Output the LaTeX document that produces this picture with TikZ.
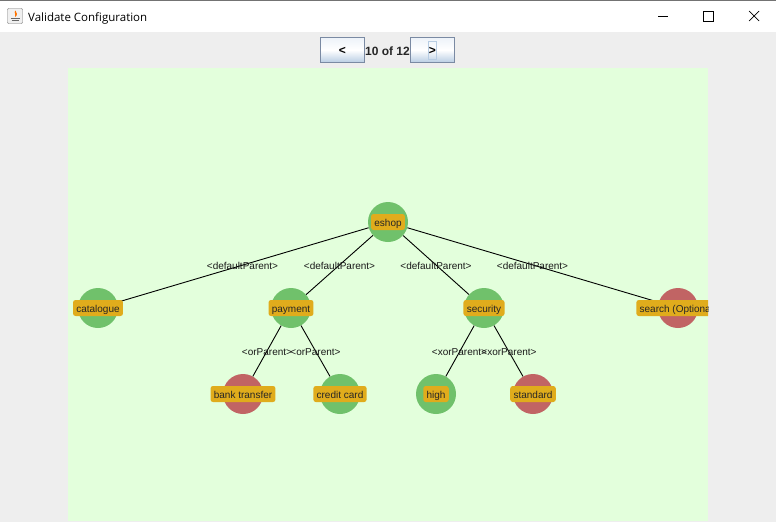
\documentclass[tikz,border=0pt]{standalone}
\usepackage{fontspec}
\setmainfont{Liberation Sans}
\newfontfamily\titlefont{Open Sans}
\definecolor{windowgrey}{HTML}{EEEEEE}
\definecolor{panelgreen}{HTML}{E3FFDC}
\definecolor{okgreen}{HTML}{70C16B}
\definecolor{badred}{HTML}{C16464}
\definecolor{tagorange}{HTML}{E0AC1C}
\definecolor{buttonedge}{HTML}{7A8AA3}
\definecolor{buttonlow}{HTML}{B8CDE3}
\definecolor{buttontop}{HTML}{EDF2F9}

\begin{document}
\begin{tikzpicture}[
    x=1pt, y=-1pt,
    feature/.style={circle, minimum size=40pt, inner sep=0pt, fill=okgreen},
    excluded/.style={feature, fill=badred},
    tag/.style={fill=tagorange, rounded corners=2.5pt, text height=9pt,
        text depth=1pt, inner xsep=3.3pt, inner ysep=3pt,
        font=\fontsize{10}{12}\selectfont, text=black!85},
    edge/.style={draw=black, line width=0.9pt},
    parent label/.style={font=\fontsize{10}{12}\selectfont, inner sep=0pt,
        text height=7.5pt, text depth=2pt, text=black!90},
    navbutton/.style={draw=buttonedge, line width=0.9pt, minimum width=44pt,
        minimum height=25pt, inner sep=0pt, text height=10pt, text depth=1pt,
        top color=buttontop, bottom color=buttonlow, middle color=white,
        font=\fontsize{12}{14}\selectfont\bfseries},
    winicon/.style={draw=black, line width=0.9pt}
]
\useasboundingbox (0,0) rectangle (776,522);

% window
\fill[windowgrey] (0,0) rectangle (776,522);
\fill[white] (0,1) rectangle (776,32);
\fill[black!55] (0,0) rectangle (776,1.2);
\fill[panelgreen] (68,68) rectangle (708,521);

% title bar
\node[draw=black!55, fill=black!6, rounded corners=1pt, minimum size=15pt,
    inner sep=0pt] (java-icon) at (15,16) {};
\fill[orange!90!red] (15.5,10.5) .. controls (13,13) and (17,14) .. (15,17)
    .. controls (18,15) and (17,13) .. (15.5,10.5);
\draw[black!60, line width=0.9pt] (10.5,18) -- (19.5,18) (11.5,20.5) -- (18.5,20.5);
\node[anchor=west, inner sep=0pt, font=\titlefont\fontsize{11.5}{14}\selectfont]
    (title) at (28,18) {Validate Configuration};
\coordinate (min-l) at (658,16);
\coordinate (min-r) at (668,16);
\draw[winicon] (min-l) -- (min-r);
\node[winicon, minimum size=10pt, inner sep=0pt] (max-box) at (708,16) {};
\coordinate (close-a) at (749,11);
\coordinate (close-b) at (759,21);
\coordinate (close-c) at (749,21);
\coordinate (close-d) at (759,11);
\draw[black, line width=0.7pt] (close-a) -- (close-b);
\draw[black, line width=0.7pt] (close-c) -- (close-d);

% navigation
\node[navbutton] (prev) at (342.3,50) {<};
\node[navbutton] (next) at (432.3,50) {>};
\node[draw=buttonlow, line width=0.8pt, minimum width=8pt, minimum height=18pt,
    inner sep=0pt] (next-focus) at (432.5,50) {};
\node[inner sep=0pt, text=black!85, font=\fontsize{12}{14}\selectfont\bfseries]
    (page) at (387.5,51) {10 of 12};

% feature circles
\node[feature] (eshop) at (388,222) {};
\node[feature] (catalogue) at (98,308) {};
\node[feature] (payment) at (291,308) {};
\node[feature] (security) at (484,308) {};
\node[excluded] (search) at (678,308) {};
\node[excluded] (bank) at (243,394) {};
\node[feature] (credit) at (340,394) {};
\node[feature] (high) at (436,394) {};
\node[excluded] (standard) at (533,394) {};

% edges
\draw[edge] (eshop) -- (catalogue);
\draw[edge] (eshop) -- (payment);
\draw[edge] (eshop) -- (security);
\draw[edge] (eshop) -- (search);
\draw[edge] (payment) -- (bank);
\draw[edge] (payment) -- (credit);
\draw[edge] (security) -- (high);
\draw[edge] (security) -- (standard);

% edge labels
\node[parent label] (label-a) at (242.5,266.3) {<defaultParent>};
\node[parent label] (label-b) at (339.5,266.3) {<defaultParent>};
\node[parent label] (label-c) at (436,266.3) {<defaultParent>};
\node[parent label] (label-d) at (532.5,266.3) {<defaultParent>};
\node[parent label] (label-e) at (267,352.3) {<orParent>};
\node[parent label] (label-f) at (315.5,352.3) {<orParent>};
\node[parent label] (label-g) at (459.5,352.3) {<xorParent>};
\node[parent label] (label-h) at (509,352.3) {<xorParent>};

% tags, the last one runs off the panel
\node[tag] (eshop-tag) at (eshop) {eshop};
\node[tag] (catalogue-tag) at (catalogue) {catalogue};
\node[tag] (payment-tag) at (payment) {payment};
\node[tag] (security-tag) at (security) {security};
\node[tag] (bank-tag) at (bank) {bank transfer};
\node[tag] (credit-tag) at (credit) {credit card};
\node[tag] (high-tag) at (high) {high};
\node[tag] (standard-tag) at (standard) {standard};
\begin{scope}
    \clip (68,68) rectangle (708,521);
    \node[tag] (search-tag) at (search) {search (Optional)};
\end{scope}

\end{tikzpicture}
\end{document}
